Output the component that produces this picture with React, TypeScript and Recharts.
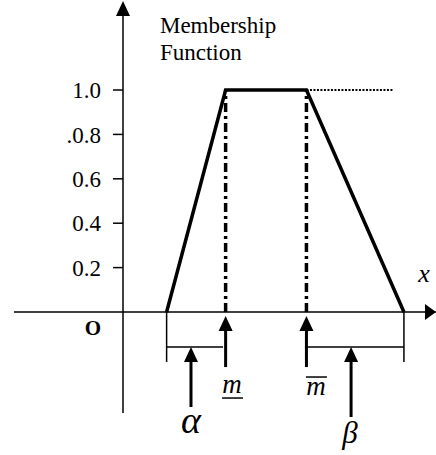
import React from "react";
import {
  LineChart,
  Line,
  XAxis,
  YAxis,
  ReferenceLine,
  ReferenceDot,
} from "recharts";

// trapezoidal membership function: support [m - α, m̄ + β], core [m, m̄]
const breakpoints = [1.7, 4, 7.15, 10.95];
const membership = [0, 1, 1, 0];
const yTicks = [0.2, 0.4, 0.6, 0.8, 1.0];
const yTickLabels = ["0.2", "0.4", "0.6", ".0.8", "1.0"];

const data = breakpoints.map((x, i) => ({ x, mu: membership[i] }));

const [LEFT_FOOT, M_LOW, M_HIGH, RIGHT_FOOT] = breakpoints;
const X_DOMAIN: [number, number] = [0, 12.2];
const Y_DOMAIN: [number, number] = [-0.455, 1.392];

const SERIF = "'Liberation Serif', 'Times New Roman', serif";
const INK = "#000";

const seg = (x1: number, y1: number, x2: number, y2: number) => [
  { x: x1, y: y1 },
  { x: x2, y: y2 },
];

const upHead = (p: any) => (
  <polygon
    points={`${p.cx},${p.cy} ${p.cx - 7},${p.cy + 15} ${p.cx + 7},${p.cy + 15}`}
    fill={INK}
  />
);

const rightHead = (p: any) => (
  <polygon
    points={`${p.cx},${p.cy} ${p.cx - 11},${p.cy - 8} ${p.cx - 11},${p.cy + 8}`}
    fill={INK}
  />
);

// text at (cx, cy); bar = offset of an under/over bar from the baseline
const label =
  (text: string, size: number, italic = false, bold = false, bar?: number) =>
  (p: any) => (
    <g>
      <text
        x={p.cx}
        y={p.cy}
        textAnchor="middle"
        fill={INK}
        style={{
          fontFamily: SERIF,
          fontSize: size,
          fontStyle: italic ? "italic" : "normal",
          fontWeight: bold ? "bold" : "normal",
        }}
      >
        {text}
      </text>
      {bar !== undefined && (
        <line
          x1={p.cx - 10}
          x2={p.cx + 11}
          y1={p.cy + bar}
          y2={p.cy + bar}
          stroke={INK}
          strokeWidth={1.5}
        />
      )}
    </g>
  );

const titleShape = (p: any) => (
  <text x={p.cx} y={p.cy} fill={INK} style={{ fontFamily: SERIF, fontSize: 23 }}>
    <tspan x={p.cx}>Membership</tspan>
    <tspan x={p.cx} dy={27}>
      Function
    </tspan>
  </text>
);

export default function App() {
  return (
    <div style={{ position: "absolute", left: 0, top: 0, background: "#fff" }}>
      <LineChart
        width={436}
        height={455}
        data={data}
        margin={{ top: 3, right: 0, bottom: 42, left: 0 }}
      >
        <XAxis dataKey="x" type="number" domain={X_DOMAIN} allowDataOverflow hide />
        <YAxis
          type="number"
          domain={Y_DOMAIN}
          allowDataOverflow
          width={123}
          ticks={yTicks}
          interval={0}
          tickSize={10}
          tickMargin={12}
          tickFormatter={(v: number) => yTickLabels[yTicks.indexOf(v)] ?? ""}
          axisLine={{ stroke: INK, strokeWidth: 1.5 }}
          tickLine={{ stroke: INK, strokeWidth: 1.5 }}
          tick={{ fill: INK, fontSize: 23, fontFamily: SERIF }}
        />

        {/* x axis, running left past the origin */}
        <ReferenceLine
          segment={seg(-4.25, 0, 12.2, 0)}
          stroke={INK}
          strokeWidth={1.5}
          ifOverflow="visible"
        />
        <ReferenceDot x={12.2} y={0} r={0} ifOverflow="visible" shape={rightHead} />
        <ReferenceDot x={0} y={1.401} r={0} ifOverflow="visible" shape={upHead} />

        {/* dotted continuation of the plateau */}
        <ReferenceLine
          segment={seg(M_HIGH, 1, 10.52, 1)}
          stroke={INK}
          strokeWidth={2}
          strokeDasharray="2 1.5"
          ifOverflow="visible"
        />

        {/* dash-dot drops from the core */}
        {[M_LOW, M_HIGH].map((x) => (
          <ReferenceLine
            key={"drop" + x}
            segment={seg(x, 0, x, 1)}
            stroke={INK}
            strokeWidth={3.5}
            strokeDasharray="9 4 3 4"
            ifOverflow="visible"
          />
        ))}

        {/* spread brackets below the axis */}
        <ReferenceLine segment={seg(LEFT_FOOT, 0, LEFT_FOOT, -0.225)} stroke={INK} strokeWidth={1.5} ifOverflow="visible" />
        <ReferenceLine segment={seg(RIGHT_FOOT, 0, RIGHT_FOOT, -0.225)} stroke={INK} strokeWidth={1.5} ifOverflow="visible" />
        <ReferenceLine segment={seg(LEFT_FOOT, -0.158, 3.9, -0.158)} stroke={INK} strokeWidth={1.5} ifOverflow="visible" />
        <ReferenceLine segment={seg(7.09, -0.158, RIGHT_FOOT, -0.158)} stroke={INK} strokeWidth={1.5} ifOverflow="visible" />

        {/* arrows */}
        {[
          { x: M_LOW, from: -0.248, to: -0.018 },
          { x: M_HIGH, from: -0.248, to: -0.018 },
          { x: 2.65, from: -0.428, to: -0.158 },
          { x: 8.89, from: -0.473, to: -0.158 },
        ].map((a) => (
          <React.Fragment key={"arr" + a.x}>
            <ReferenceLine
              segment={seg(a.x, a.from, a.x, a.to - 0.03)}
              stroke={INK}
              strokeWidth={3}
              ifOverflow="visible"
            />
            <ReferenceDot x={a.x} y={a.to} r={0} ifOverflow="visible" shape={upHead} />
          </React.Fragment>
        ))}

        <Line
          dataKey="mu"
          type="linear"
          stroke={INK}
          strokeWidth={3.5}
          dot={false}
          isAnimationActive={false}
        />

        {/* texts */}
        <ReferenceDot x={1.44} y={1.257} r={0} ifOverflow="visible" shape={titleShape} />
        <ReferenceDot x={11.73} y={0.135} r={0} ifOverflow="visible" shape={label("x", 26, true)} />
        <ReferenceDot x={-1.17} y={-0.104} r={0} ifOverflow="visible" shape={label("O", 21, false, true)} />
        <ReferenceDot x={4.25} y={-0.365} r={0} ifOverflow="visible" shape={label("m", 27, true, false, 5)} />
        <ReferenceDot x={7.52} y={-0.374} r={0} ifOverflow="visible" shape={label("m", 27, true, false, -18)} />
        <ReferenceDot x={2.65} y={-0.545} r={0} ifOverflow="visible" shape={label("α", 38, true)} />
        <ReferenceDot x={8.85} y={-0.59} r={0} ifOverflow="visible" shape={label("β", 31, true)} />
      </LineChart>
    </div>
  );
}
